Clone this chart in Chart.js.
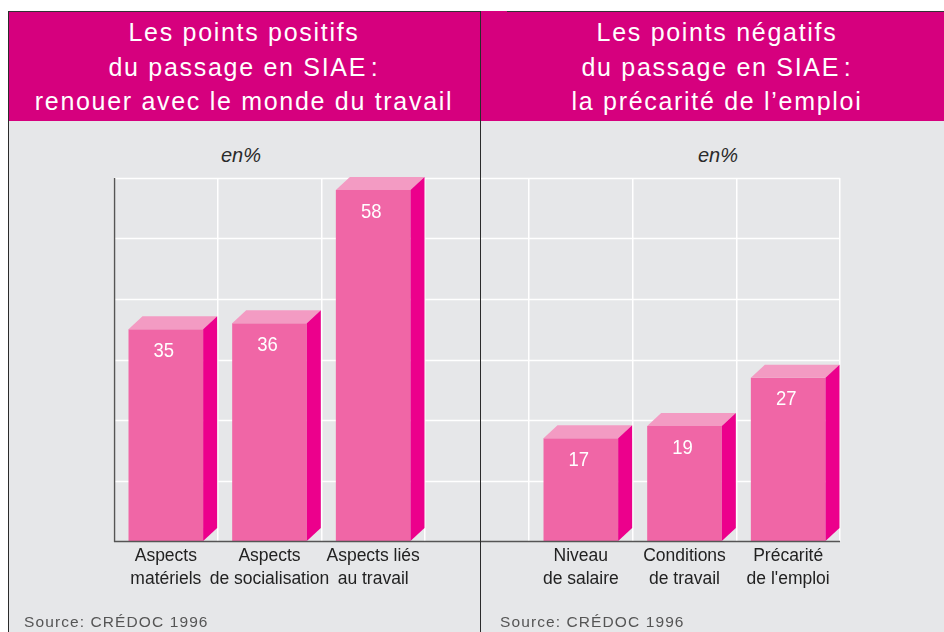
<!DOCTYPE html>
<html>
<head>
<meta charset="utf-8">
<script src="https://cdn.jsdelivr.net/npm/chart.js@4.4.1/dist/chart.umd.min.js"></script>
<style>
  html, body { margin: 0; padding: 0; background: #fff; }
  #page { position: relative; width: 944px; height: 632px; overflow: hidden; background: #fff; }
  .hdr { position: absolute; top: 11px; height: 110px; background: #d6007e; }
  .body { position: absolute; top: 121px; height: 511px; background: #e6e7e9; }
  .title { position: absolute; top: 15px; color: #fff; text-align: center;
           font-family: 'Liberation Sans', Arial, sans-serif; font-size: 25px;
           line-height: 34.5px; letter-spacing: 1.7px; white-space: nowrap; }
  .unit { position: absolute; top: 142px; width: 100px; text-align: center; color: #2a2a2a;
          font-family: 'Liberation Sans', Arial, sans-serif; font-style: italic; font-size: 20px; line-height: 26px; }
  .src { position: absolute; top: 613px; color: #555; font-family: 'Liberation Sans', Arial, sans-serif;
         font-size: 15.5px; line-height: 18px; letter-spacing: 1.1px; white-space: nowrap; }
  .vline { position: absolute; top: 11px; width: 1.5px; height: 621px; background: #2b2b2b; }
  .hline { position: absolute; top: 10.5px; height: 1px; background: #333; }
  canvas { position: absolute; }
</style>
</head>
<body>
<div id="page">
  <div class="hdr" style="left:8px;width:936px"></div>
  <div class="body" style="left:8px;width:936px"></div>
  <div class="hline" style="left:8px;width:472px"></div>
  <div class="hline" style="left:507px;width:437px"></div>

  <div class="title" style="left:8px;width:472px">Les points positifs<br>du passage en SIAE&#8202;:<br>renouer avec le monde du travail</div>
  <div class="title" style="left:490px;width:454px">Les points négatifs<br>du passage en SIAE&#8202;:<br>la précarité de l’emploi</div>

  <div class="unit" style="left:191px">en%</div>
  <div class="unit" style="left:668px">en%</div>

  <div style="position:absolute;left:9px;top:121px;width:471px;height:511px"><canvas id="leftChart"></canvas></div>
  <div style="position:absolute;left:481px;top:121px;width:463px;height:511px"><canvas id="rightChart"></canvas></div>

  <div class="src" style="left:24px">Source: CRÉDOC 1996</div>
  <div class="src" style="left:500px">Source: CRÉDOC 1996</div>

  <div class="vline" style="left:7.5px"></div>
  <div class="vline" style="left:479.5px"></div>
</div>

<script>
// data (percent)
const leftCategories = [['Aspects', 'matériels'], ['Aspects', 'de socialisation'], ['Aspects liés', 'au travail']];
const leftValues = [35, 36, 58];
const rightCategories = [['Niveau', 'de salaire'], ['Conditions', 'de travail'], ['Précarité', "de l'emploi"]];
const rightValues = [17, 19, 27];
const yMax = 60;
const yStep = 10;

const FRONT = '#f066a6';
const TOP = '#f39bc3';
const SIDE = '#ec008c';
const DX = 14, DY = 13;

// draws the fake 3d boxes, the long gridlines and the axis lines
const box3d = {
  id: 'box3d',
  beforeDatasetsDraw(chart, args, opts) {
    const { ctx, scales: { y } } = chart;
    ctx.save();
    ctx.strokeStyle = '#ffffff';
    ctx.lineWidth = 1.5;
    y.ticks.forEach(t => {
      if (t.value === 0) return;
      const py = Math.round(y.getPixelForValue(t.value)) + 0.5;
      ctx.beginPath(); ctx.moveTo(opts.from, py); ctx.lineTo(opts.to, py); ctx.stroke();
    });
    ctx.restore();
  },
  afterDatasetsDraw(chart, args, opts) {
    const { ctx, chartArea, scales: { y } } = chart;
    const meta = chart.getDatasetMeta(0);
    const values = chart.data.datasets[0].data;
    ctx.save();
    meta.data.forEach((bar, i) => {
      const p = bar.getProps(['x', 'y', 'width', 'base'], true);
      const l = p.x - p.width / 2, r = p.x + p.width / 2;
      ctx.fillStyle = TOP;
      ctx.beginPath();
      ctx.moveTo(l, p.y); ctx.lineTo(l + DX, p.y - DY); ctx.lineTo(r + DX, p.y - DY); ctx.lineTo(r, p.y);
      ctx.closePath(); ctx.fill();
      ctx.fillStyle = SIDE;
      ctx.beginPath();
      ctx.moveTo(r, p.y); ctx.lineTo(r + DX, p.y - DY); ctx.lineTo(r + DX, p.base - DY); ctx.lineTo(r, p.base);
      ctx.closePath(); ctx.fill();
      // value, slightly condensed like the original type
      ctx.save();
      ctx.fillStyle = '#ffffff';
      ctx.font = "21px 'Liberation Sans', Arial, sans-serif";
      ctx.textAlign = 'center';
      ctx.textBaseline = 'middle';
      ctx.translate(p.x - 2, p.y + 22);
      ctx.scale(0.88, 1);
      ctx.fillText(String(values[i]), 0, 0);
      ctx.restore();
    });
    // axes
    const y0 = Math.round(y.getPixelForValue(0)) + 0.5;
    ctx.strokeStyle = '#555';
    ctx.lineWidth = 1.5;
    ctx.beginPath(); ctx.moveTo(opts.from, y0); ctx.lineTo(opts.to, y0); ctx.stroke();
    if (opts.yAxis) {
      const x0 = Math.round(chartArea.left) + 0.5;
      ctx.beginPath(); ctx.moveTo(x0, chartArea.top); ctx.lineTo(x0, y0); ctx.stroke();
    }
    ctx.restore();
  }
};

function makeChart(id, labels, values, pad, extent) {
  return new Chart(document.getElementById(id), {
    type: 'bar',
    data: {
      labels: labels,
      datasets: [{ data: values, backgroundColor: FRONT, borderWidth: 0,
                   categoryPercentage: 1, barPercentage: 0.72 }]
    },
    options: {
      responsive: true,
      maintainAspectRatio: false,
      animation: false,
      events: [],
      layout: { padding: pad },
      plugins: { legend: { display: false }, tooltip: { enabled: false }, box3d: extent },
      scales: {
        x: {
          grid: { color: '#ffffff', lineWidth: 1.5, drawTicks: false, offset: true },
          border: { display: false },
          ticks: { color: '#222', padding: 4, autoSkip: false, maxRotation: 0, minRotation: 0,
                   font: { family: "'Liberation Sans', Arial, sans-serif", size: 17.5, lineHeight: '23px' } },
          afterFit(s) { s.height = 91; }
        },
        y: {
          min: 0, max: yMax,
          ticks: { display: false, stepSize: yStep },
          grid: { display: false, drawTicks: false },
          border: { display: false },
          afterFit(s) { s.width = 0; }
        }
      }
    },
    plugins: [box3d]
  });
}

makeChart('leftChart', leftCategories, leftValues,
  { left: 105, right: 55, top: 57, bottom: 0 }, { from: 105, to: 471, yAxis: true });
makeChart('rightChart', rightCategories, rightValues,
  { left: 48, right: 104, top: 57, bottom: 0 }, { from: 0, to: 359, yAxis: false });
</script>
</body>
</html>
